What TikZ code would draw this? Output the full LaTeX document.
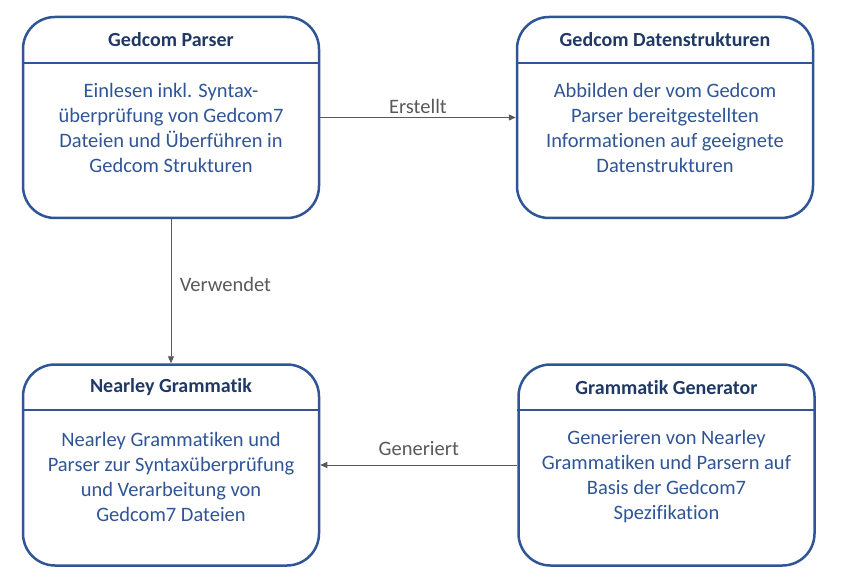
\documentclass[tikz,border=0pt]{standalone}
\usepackage{fontspec}
\setmainfont{Carlito}[Ligatures={NoCommon}]
\usetikzlibrary{positioning,arrows.meta}
\definecolor{boxblue}{HTML}{2F5597}
\definecolor{titleblue}{HTML}{203864}
\definecolor{linegray}{HTML}{595959}
\tikzset{
  box/.style={draw=boxblue, line width=2.5pt, rounded corners=32pt,
    minimum width=296pt, minimum height=201pt},
  divider/.style={draw=boxblue, line width=2pt},
  titletext/.style={text=titleblue, font=\fontsize{20}{25}\selectfont\bfseries},
  bodytext/.style={text=boxblue, align=center, font=\fontsize{20.5}{25}\selectfont},
  link/.style={draw=linegray, line width=0.9pt, -{Triangle[length=7pt,width=6pt]}},
  linklabel/.style={text=linegray, font=\fontsize{20.5}{25}\selectfont}
}
\begin{document}
\begin{tikzpicture}[x=1pt, y=-1pt]
  \useasboundingbox (0,0) rectangle (848,585);
  \node[box] (parser) at (171,117.5) {};
  \node[box] (data) at (665,117.5) {};
  \node[box] (grammar) at (171,465) {};
  \node[box] (generator) at (666.5,465) {};

  % Kopfzeilen
  \draw[divider] ([yshift=-47pt]parser.north west) -- ([yshift=-47pt]parser.north east);
  \draw[divider] ([yshift=-47pt]data.north west) -- ([yshift=-47pt]data.north east);
  \draw[divider] ([yshift=-47pt]grammar.north west) -- ([yshift=-47pt]grammar.north east);
  \draw[divider] ([yshift=-47pt]generator.north west) -- ([yshift=-47pt]generator.north east);
  \node[titletext] (parsertitle) at ([yshift=-24pt]parser.north) {Gedcom Parser};
  \node[titletext] (datatitle) at ([yshift=-24pt]data.north) {Gedcom Datenstrukturen};
  \node[titletext] (grammartitle) at ([yshift=-24pt]grammar.north) {Nearley Grammatik};
  \node[titletext] (generatortitle) at ([yshift=-24pt]generator.north) {Grammatik Generator};

  % Beschreibungen
  \node[bodytext] (parserbody) at ([yshift=-10pt]parser.center)
    {Einlesen inkl. Syntax-\\überprüfung von Gedcom7\\Dateien und Überführen in\\Gedcom Strukturen};
  \node[bodytext] (databody) at ([yshift=-10pt]data.center)
    {Abbilden der vom Gedcom\\Parser bereitgestellten\\Informationen auf geeignete\\Datenstrukturen};
  \node[bodytext] (grammarbody) at ([yshift=-12pt]grammar.center)
    {Nearley Grammatiken und\\Parser zur Syntaxüberprüfung\\und Verarbeitung von\\Gedcom7 Dateien};
  \node[bodytext] (generatorbody) at ([yshift=-12pt]generator.center)
    {Generieren von Nearley\\Grammatiken und Parsern auf\\Basis der Gedcom7\\Spezifikation};

  \begin{scope}[link]
    \draw (parser) to node[linklabel, above=0pt] {Erstellt} (data);
    \draw (parser) to node[linklabel, right=5pt, pos=0.45] {Verwendet} (grammar);
    \draw (generator) to node[linklabel, above=6pt] {Generiert} (grammar);
  \end{scope}
\end{tikzpicture}
\end{document}
